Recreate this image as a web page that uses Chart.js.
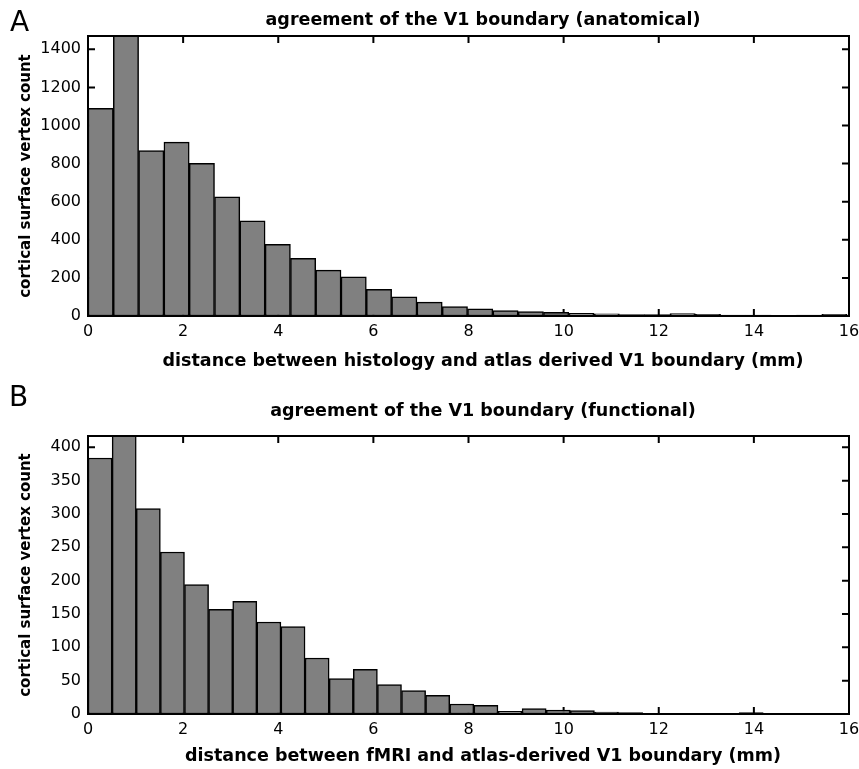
<!DOCTYPE html>
<html><head><meta charset="utf-8">
<script src="https://cdn.jsdelivr.net/npm/chart.js@4/dist/chart.umd.min.js"></script>
<style>
html,body{margin:0;padding:0;background:#fff;}
#wrap{position:relative;width:859px;height:769px;overflow:hidden;font-family:'DejaVu Sans',sans-serif;color:#000;}
.box{position:absolute;left:0;width:859px;}
.lbl{position:absolute;font-size:28px;line-height:28px;white-space:nowrap;}
.ttl{position:absolute;left:0;width:966px;text-align:center;font-weight:bold;font-size:17.5px;line-height:20px;white-space:nowrap;}
</style></head><body>
<div id="wrap">
 <div class="box" style="top:0;height:380px"><canvas id="cA" width="859" height="380"></canvas></div>
 <div class="box" style="top:380px;height:389px"><canvas id="cB" width="859" height="389"></canvas></div>
 <div class="lbl" style="left:10px;top:8px">A</div>
 <div class="lbl" style="left:9px;top:383px">B</div>
 <div class="ttl" style="top:9px">agreement of the V1 boundary (anatomical)</div>
 <div class="ttl" style="top:350px">distance between histology and atlas derived V1 boundary (mm)</div>
 <div class="ttl" style="top:400px">agreement of the V1 boundary (functional)</div>
 <div class="ttl" style="top:745px">distance between fMRI and atlas-derived V1 boundary (mm)</div>
</div>
<script>
// Panel A: anatomical (histology vs atlas), bin centres in mm and counts
const binCentersA = [0.266, 0.798, 1.330, 1.862, 2.394, 2.926, 3.458, 3.990, 4.522, 5.054,
  5.586, 6.118, 6.650, 7.182, 7.714, 8.246, 8.778, 9.310, 9.842, 10.374,
  10.906, 11.438, 11.970, 12.502, 13.034, 13.566, 14.098, 14.630, 15.162, 15.694];
const countsA = [1090, 1560, 868, 913, 801, 626, 499, 376, 303, 241,
  206, 140, 100, 73, 49, 38, 28, 23, 19, 14,
  12, 8, 7, 13, 9, 5, 5, 4, 5, 9];

// Panel B: functional (fMRI vs atlas)
const binCentersB = [0.254, 0.761, 1.268, 1.775, 2.282, 2.789, 3.296, 3.803, 4.310, 4.817,
  5.324, 5.831, 6.338, 6.845, 7.352, 7.859, 8.366, 8.873, 9.380, 9.887,
  10.394, 10.901, 11.408, 11.915, 12.422, 12.929, 13.436, 13.943, 14.450, 14.957];
const countsB = [384, 440, 308, 243, 194, 157, 169, 138, 131, 84,
  53, 67, 44, 35, 28, 15, 13, 4, 8, 6,
  5, 3, 2, 1, 1, 0, 1, 2, 1, 1];

const xTickStep = 2;
const xMax = 16;
const yMaxA = 1470, yStepA = 200;
const yMaxB = 417, yStepB = 50;
const yTitle = 'cortical surface vertex count';

Chart.defaults.font.family = "'DejaVu Sans', sans-serif";
Chart.defaults.color = '#000';

const boxTicks = {
  id: 'boxTicks',
  beforeDatasetsDraw(chart) {
    const {ctx, chartArea: a, scales: {x, y}} = chart;
    const L = 7;
    ctx.save();
    ctx.strokeStyle = '#000';
    ctx.lineWidth = 2;
    ctx.beginPath();
    x.ticks.forEach(t => {
      const p = x.getPixelForValue(t.value);
      if (p <= a.left + 1 || p >= a.right - 1) return;
      ctx.moveTo(p, a.bottom); ctx.lineTo(p, a.bottom - L);
      ctx.moveTo(p, a.top); ctx.lineTo(p, a.top + L);
    });
    y.ticks.forEach(t => {
      const p = y.getPixelForValue(t.value);
      if (p >= a.bottom - 1 || p <= a.top + 1) return;
      ctx.moveTo(a.left, p); ctx.lineTo(a.left + L, p);
      ctx.moveTo(a.right, p); ctx.lineTo(a.right - L, p);
    });
    ctx.stroke();
    ctx.restore();
  },
  afterDatasetsDraw(chart) {
    const {ctx, chartArea: a} = chart;
    ctx.save();
    ctx.strokeStyle = '#000';
    ctx.lineWidth = 2;
    ctx.strokeRect(a.left, a.top, a.right - a.left, a.bottom - a.top);
    ctx.restore();
  }
};

function makeChart(id, centers, counts, yMax, yStep, canvasH, areaTop, areaBottom) {
  return new Chart(document.getElementById(id), {
    type: 'bar',
    data: {
      datasets: [{
        data: centers.map((c, i) => ({x: c, y: counts[i]})),
        backgroundColor: '#808080',
        borderColor: '#000',
        borderWidth: 1.5,
        borderSkipped: false,
        barPercentage: 1,
        categoryPercentage: 1,
        clip: 0
      }]
    },
    options: {
      responsive: false,
      animation: false,
      events: [],
      layout: {padding: {top: areaTop, right: 10, bottom: 0, left: 0}},
      plugins: {legend: {display: false}, tooltip: {enabled: false}, title: {display: false}},
      scales: {
        x: {
          type: 'linear', min: 0, max: xMax, offset: false,
          grid: {display: false, drawTicks: false, offset: false},
          border: {display: false},
          ticks: {stepSize: xTickStep, padding: 6, font: {size: 16}, maxRotation: 0, autoSkip: false, includeBounds: false, color: '#000'},
          afterFit(s) { s.height = canvasH - areaBottom; s.paddingLeft = 0; s.paddingRight = 0; }
        },
        y: {
          min: 0, max: yMax,
          grid: {display: false, drawTicks: false},
          border: {display: false},
          ticks: {stepSize: yStep, padding: 7, font: {size: 16}, includeBounds: false, color: '#000',
                  callback: v => String(v)},
          title: {display: true, text: yTitle, font: {size: 15, weight: 'bold'}, padding: {top: 17, bottom: 0}, color: '#000'},
          afterFit(s) { s.width = 88; s.paddingTop = 0; s.paddingBottom = 0; }
        }
      }
    },
    plugins: [boxTicks]
  });
}

makeChart('cA', binCentersA, countsA, yMaxA, yStepA, 380, 36, 316);
makeChart('cB', binCentersB, countsB, yMaxB, yStepB, 389, 56, 334);
</script>
</body></html>
